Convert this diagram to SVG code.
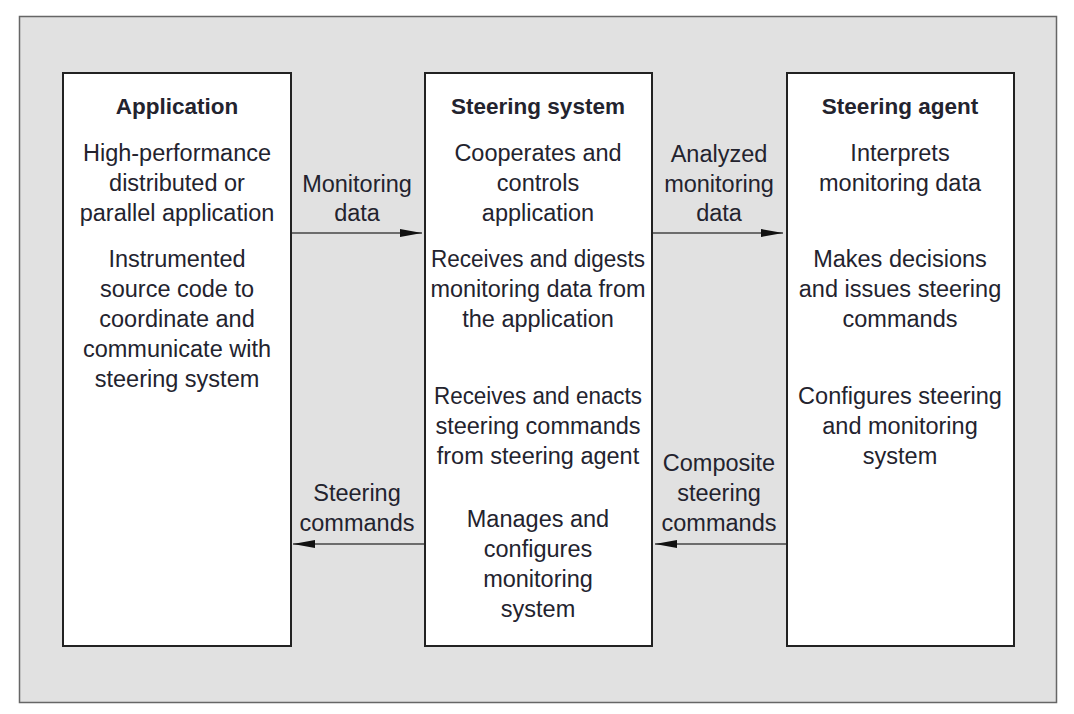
<svg xmlns="http://www.w3.org/2000/svg" width="1074" height="714" viewBox="0 0 1074 714">
<defs>
<style>
.t{font-family:"Liberation Sans",Arial,sans-serif;font-size:23.5px;fill:#23232e;text-anchor:middle}
.h{font-family:"Liberation Sans",Arial,sans-serif;font-size:22.5px;font-weight:bold;fill:#23232e;text-anchor:middle}
.box{fill:#fff;stroke:#222;stroke-width:2}
.c{stroke:#444;stroke-width:1.3;fill:none}
</style>
<marker id="ah" markerWidth="22" markerHeight="10" refX="22" refY="5" orient="auto" markerUnits="userSpaceOnUse">
<path d="M0,1 L22,5 L0,9 Z" fill="#111"/>
</marker>
</defs>
<rect x="0" y="0" width="1074" height="714" fill="#fff"/>
<rect x="19.5" y="16.5" width="1037" height="686" fill="#e1e1e1" stroke="#666" stroke-width="1.5"/>

<g id="application">
<rect class="box" x="63" y="73" width="228" height="573"/>
<text class="h" x="177" y="114">Application</text>
<text class="t" x="177" y="161">High-performance</text>
<text class="t" x="177" y="191">distributed or</text>
<text class="t" x="177" y="221">parallel application</text>
<text class="t" x="177" y="267">Instrumented</text>
<text class="t" x="177" y="297">source code to</text>
<text class="t" x="177" y="327">coordinate and</text>
<text class="t" x="177" y="357">communicate with</text>
<text class="t" x="177" y="387">steering system</text>
</g>

<g id="steering-system">
<rect class="box" x="425" y="73" width="227" height="573"/>
<text class="h" x="538" y="114">Steering system</text>
<text class="t" x="538" y="161">Cooperates and</text>
<text class="t" x="538" y="191">controls</text>
<text class="t" x="538" y="221">application</text>
<text class="t" x="538" y="267" textLength="214" lengthAdjust="spacingAndGlyphs">Receives and digests</text>
<text class="t" x="538" y="297" textLength="215" lengthAdjust="spacingAndGlyphs">monitoring data from</text>
<text class="t" x="538" y="327">the application</text>
<text class="t" x="538" y="404" textLength="208" lengthAdjust="spacingAndGlyphs">Receives and enacts</text>
<text class="t" x="538" y="434">steering commands</text>
<text class="t" x="538" y="464">from steering agent</text>
<text class="t" x="538" y="527">Manages and</text>
<text class="t" x="538" y="557">configures</text>
<text class="t" x="538" y="587">monitoring</text>
<text class="t" x="538" y="617">system</text>
</g>

<g id="steering-agent">
<rect class="box" x="787" y="73" width="227" height="573"/>
<text class="h" x="900" y="114">Steering agent</text>
<text class="t" x="900" y="161">Interprets</text>
<text class="t" x="900" y="191">monitoring data</text>
<text class="t" x="900" y="267">Makes decisions</text>
<text class="t" x="900" y="297">and issues steering</text>
<text class="t" x="900" y="327">commands</text>
<text class="t" x="900" y="404">Configures steering</text>
<text class="t" x="900" y="434">and monitoring</text>
<text class="t" x="900" y="464">system</text>
</g>

<g id="connectors">
<line class="c" x1="292" y1="233" x2="422" y2="233" marker-end="url(#ah)"/>
<line class="c" x1="653" y1="233" x2="783" y2="233" marker-end="url(#ah)"/>
<line class="c" x1="424" y1="544" x2="293" y2="544" marker-end="url(#ah)"/>
<line class="c" x1="786" y1="544" x2="655" y2="544" marker-end="url(#ah)"/>
<text class="t" x="357" y="192">Monitoring</text>
<text class="t" x="357" y="221">data</text>
<text class="t" x="719" y="162">Analyzed</text>
<text class="t" x="719" y="192">monitoring</text>
<text class="t" x="719" y="221">data</text>
<text class="t" x="357" y="501">Steering</text>
<text class="t" x="357" y="531">commands</text>
<text class="t" x="719" y="471">Composite</text>
<text class="t" x="719" y="501">steering</text>
<text class="t" x="719" y="531">commands</text>
</g>
</svg>
